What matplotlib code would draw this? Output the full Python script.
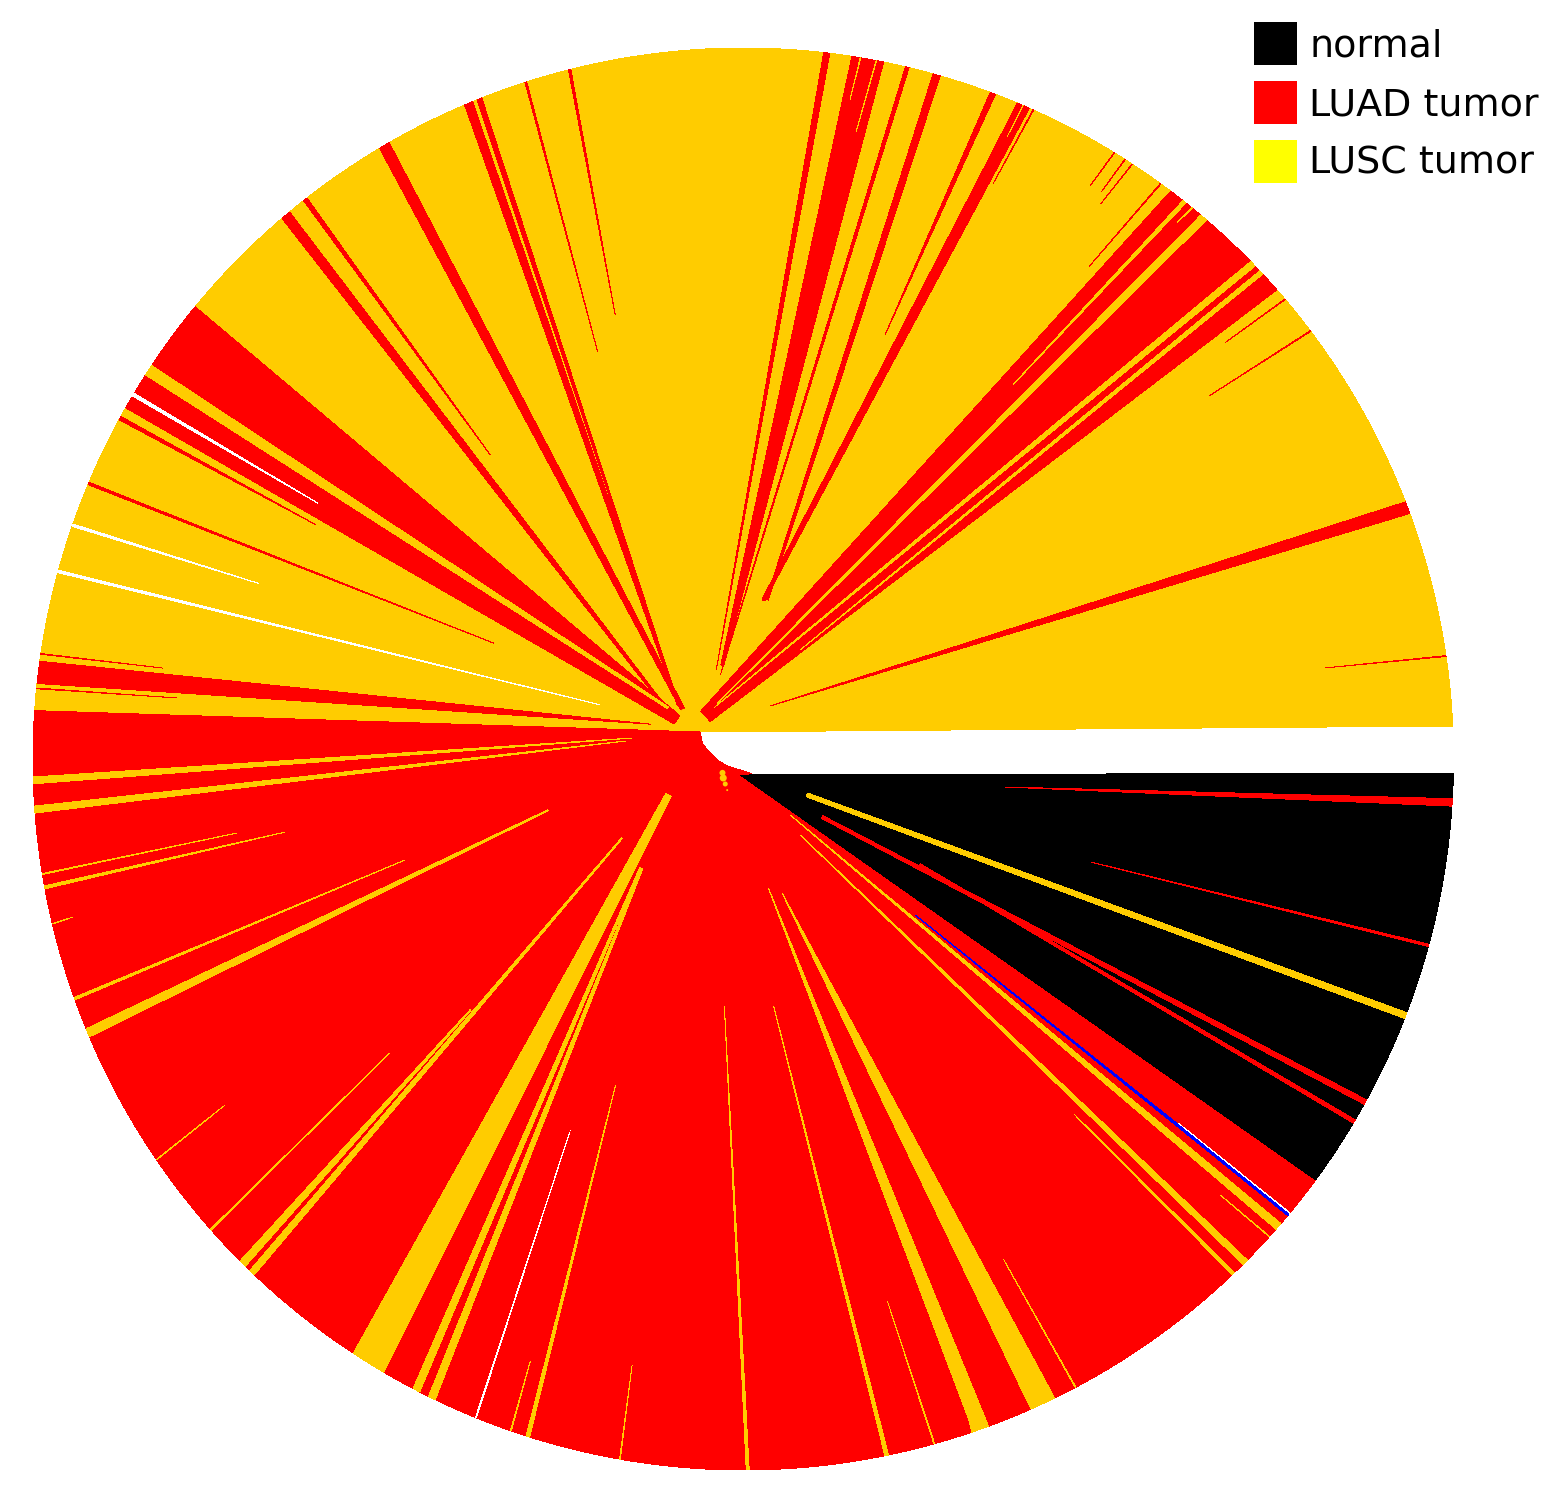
import numpy as np
import matplotlib
matplotlib.use("Agg")
import matplotlib.pyplot as plt
from matplotlib.patches import Patch

W, H = 1558, 1493
CX, CY, RIM = 743.25, 759, 711
XSCALE = 710.25 / 711

ORANGE = "#FFCC00"
COL = {"r": "#FF0000", "o": ORANGE, "w": "#FFFFFF", "b": "#0000FF", "k": "#000000"}

legend_labels = ["normal", "LUAD tumor", "LUSC tumor"]
legend_colors = ["#000000", "#FF0000", "#FFFF00"]

# three main sectors: rim angles (deg) and inner boundary (radius, angle)
orange_rim = (2.66, 176.1)
orange_inner_r = [50.8]
orange_inner_a = [147.9]
red_rim = (176.1, 323.7)
red_inner_r = [15.7, 11.4, 17.5, 26, 37, 44, 50.8]
red_inner_a = [296.6, 254.7, 203.6, 182.2, 166, 158.7, 147.9]
black_rim = (323.7, 358.87)
black_inner_r = [16.3]
black_inner_a = [259.4]

# clusters of samples inside the sectors
spike_colors = list("rrrrrrrrrrrrrrrrrrrrrrrrrrrrr" "www" "ooooooooo"
                    "oooooooooooooo" "w" "oooooooooooooo" "b" "w" "rrorr")
spike_start = [8.29, 20.2, 36.97, 40.26, 41.3, 53.98, 56.77, 57.47, 58.48, 65.87,
               66.25, 69.2, 73.9, 76.5, 78.6, 83.0, 104.05, 107.75, 111.6, 112.4,
               119.9, 127.9, 129.7, 140.5, 151.2, 157.1, 171.47, 172.1, 174.27,
               149.05, 160.7, 164.6,
               43.0, 43.9, 49.3, 51.45, 50.78, 66.78, 79.18, 80.48, 146.4,
               181.45, 183.8, 189.27, 190.28, 193.38, 199.6, 202.3, 214.28, 221.4,
               224.9, 226.0, 236.7, 242.3, 243.7,
               247.85,
               250.86, 252.2, 259.97, 270.24, 281.5, 285.57, 288.78, 288.9, 293.9,
               297.87, 313.5, 314.7, 317.78, 318.6,
               320.05, 320.3,
               356.2, 344.7, 338.6, 330.95, 329.2]
spike_end = [8.36, 21.2, 37.04, 40.31, 53.0, 54.04, 56.81, 57.51, 58.52, 65.93,
             67.3, 69.65, 74.5, 76.8, 81.2, 83.5, 104.25, 107.9, 112.0, 113.1,
             120.8, 128.25, 130.5, 150.4, 151.5, 157.3, 171.53, 173.9, 174.33,
             149.3, 160.9, 164.8,
             43.35, 44.4, 49.9, 51.75, 50.82, 66.82, 79.22, 80.52, 147.3,
             182.0, 184.36, 189.35, 190.52, 193.42, 199.8, 203.0, 214.32, 221.5,
             225.5, 226.5, 239.6, 242.9, 244.3,
             247.93,
             250.94, 252.5, 260.03, 270.48, 281.8, 285.63, 288.82, 290.2, 296.0,
             297.93, 313.75, 315.2, 317.82, 319.2,
             320.3, 320.33,
             356.8, 344.9, 339.1, 331.35, 329.5]
spike_tip_r = [589, 59.5, 591, 637, 57, 601, 660, 671, 669, 627,
               160, 447, 161, 87, 96, 93, 462, 432, 93, 84.5,
               77.5, 395, 86, 77, 487, 274, 587, 99, 569,
               496, 515, 153,
               123, 59, 61, 461, 690, 676, 636, 667, 91,
               113, 119, 511, 464, 689, 353, 202, 623, 459,
               371, 145, 83, 150, 149,
               409,
               638, 350, 616, 247, 248, 560, 663, 131, 140,
               563, 485, 95, 646, 73,
               232, 566,
               263.5, 362, 73, 98, 206]
spike_tip_a = [8.89, 63, 37.9, 40.8, 131.5, 54.9, 57.2, 57.7, 58.8, 66.5,
               82.8, 71.5, 81.4, 105.3, 102.6, 106.9, 106.1, 109.7, 136.7, 140.3,
               140.8, 129.8, 148.3, 149.4, 151.3, 155.1, 171.1, 159.4, 173.85,
               149.0, 160.1, 159.3,
               62.4, 120, 116, 54.2, 51.0, 67.0, 79.8, 80.8, 145.8,
               169.3, 171.3, 188.3, 189.05, 193.25, 196.6, 194.7, 213.7, 219.7,
               222.6, 213.1, 205.6, 226.6, 227.2,
               245,
               250.5, 248.6, 259.6, 265.6, 277, 284.9, 289.1, 281, 286.2,
               297.5, 313, 306.9, 317.6, 310,
               317.8, 320.1,
               353.9, 343.5, 330.6, 323.7, 329.1]
spike_tip_w = [0, 0, 0, 0, 14, 0, 0, 0, 0, 0,
               3, 0, 2, 0, 3, 0, 0, 0, 0, 2,
               4, 0, 2, 10, 0, 0, 0, 0, 0,
               0, 0, 0,
               0, 0, 0, 0, 0, 0, 0, 0, 2,
               0, 0, 0, 0, 0, 0, 1, 0, 0,
               1, 1, 6, 1.5, 1.5,
               0,
               0, 0, 0, 0, 0, 0, 0, 0, 0,
               0, 0, 0, 0, 0,
               0, 0,
               0, 0, 4, 3, 2]

# small rounded ends near the root
blob_r = [75, 59, 25, 27.6, 30.8, 35]
blob_a = [142, 147.4, 213.7, 223.5, 234.2, 242.7]
blob_s = [8, 7, 6, 7, 5, 2]


def polar(r, a):
    a = np.radians(np.asarray(a, float))
    return np.asarray(r, float) * np.cos(a), np.asarray(r, float) * np.sin(a)


def rim_arc(a0, a1):
    n = max(2, int(abs(a1 - a0) * 4) + 2)
    return polar(RIM, np.linspace(a0, a1, n))


def sector(ax, rim, inner_r, inner_a, color):
    x, y = rim_arc(*rim)
    ix, iy = polar(inner_r, inner_a)
    ax.fill(np.r_[x, ix], np.r_[y, iy], color=color, lw=0, antialiased=False, clip_on=False)


fig = plt.figure(figsize=(W / 100, H / 100), dpi=100, facecolor="white")
ax = fig.add_axes([0, 0, 1, 1])
ax.set_xlim(-CX / XSCALE, (W - CX) / XSCALE)
ax.set_ylim(CY - H, CY)
ax.axis("off")

sector(ax, orange_rim, orange_inner_r, orange_inner_a, COL["o"])
sector(ax, red_rim, red_inner_r, red_inner_a, COL["r"])
sector(ax, black_rim, black_inner_r, black_inner_a, COL["k"])

for c, a0, a1, tr, ta, tw in zip(spike_colors, spike_start, spike_end,
                                 spike_tip_r, spike_tip_a, spike_tip_w):
    x, y = rim_arc(a0, a1)
    tx, ty = polar(tr, ta)
    if tw:
        mx, my = polar(RIM, (a0 + a1) / 2)
        d = np.hypot(mx - tx, my - ty)
        nx, ny = -(my - ty) / d, (mx - tx) / d
        px = [tx + nx * tw / 2, tx - nx * tw / 2]
        py = [ty + ny * tw / 2, ty - ny * tw / 2]
    else:
        px, py = [tx], [ty]
    ax.fill(np.r_[x, px], np.r_[y, py], color=COL[c], lw=0, antialiased=False, clip_on=False)

bx, by = polar(blob_r, blob_a)
ax.scatter(bx, by, s=[(v * 0.72) ** 2 for v in blob_s], color=ORANGE, lw=0, zorder=5)

FS = 27.35
handles = [Patch(facecolor=c, edgecolor="none", antialiased=False) for c in legend_colors]
fig.legend(handles, legend_labels, loc="upper left",
           bbox_to_anchor=(1254 / W, 1 - 22 / H), bbox_transform=fig.transFigure,
           frameon=False, borderpad=0, borderaxespad=0, fontsize=FS,
           handlelength=1.13, handleheight=1.362, labelspacing=0.42, handletextpad=0.32)

fig.savefig("out.png", dpi=100)
